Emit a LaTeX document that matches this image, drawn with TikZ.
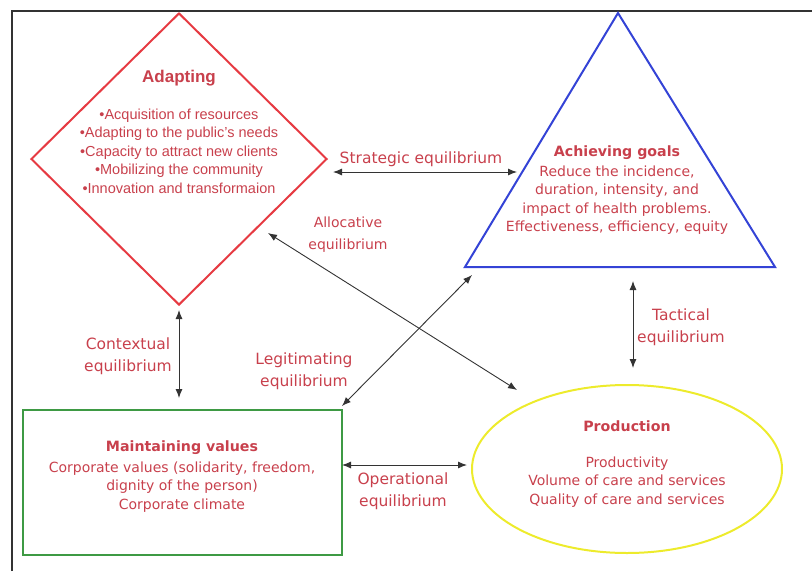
\documentclass[tikz,border=0pt]{standalone}
\usepackage{fontspec}
\setmainfont{Liberation Sans}
\newfontfamily\comicfont{DejaVu Sans}
\usepackage{xcolor}
\usetikzlibrary{shapes, arrows.meta, positioning}

\definecolor{txtred}{HTML}{C8404C}
\definecolor{adaptred}{HTML}{E63A42}
\definecolor{goalblue}{HTML}{3443D6}
\definecolor{valgreen}{HTML}{3E9A44}
\definecolor{prodyellow}{HTML}{EDEB2C}
\definecolor{arrowgray}{HTML}{333333}

\begin{document}
\begin{tikzpicture}[
        x=1pt, y=-1pt,
        >={Latex[length=9pt, width=7pt]},
        eqarrow/.style={<->, draw=arrowgray, line width=0.9pt},
        eqlabel/.style={text=txtred, font=\comicfont\fontsize{15.5}{22}\selectfont, align=center, inner sep=2pt},
        boxtext/.style={text=txtred, font=\comicfont\fontsize{14}{18.5}\selectfont, align=center},
        boxtitle/.style={text=txtred, font=\comicfont\bfseries\fontsize{14.2}{17}\selectfont}
    ]
    \useasboundingbox (0,0) rectangle (812,571);
    % frame
    \draw[line width=1.2pt, black!80] (12,571) -- (12,11) -- (812,11);

    % Adapting
    \node[diamond, draw=adaptred, line width=2pt, minimum width=296pt, minimum height=292pt, inner sep=0pt] (adapt) at (179,159) {};
    \node[text=txtred, font=\bfseries\fontsize{17}{20}\selectfont] (adapt_title) at (179,78) {Adapting};
    \node[text=txtred, font=\fontsize{14.5}{18.6}\selectfont, align=center, anchor=north] (adapt_body) at (179,105) {
        •Acquisition of resources\\
        •Adapting to the public's needs\\
        •Capacity to attract new clients\\
        •Mobilizing the community\\
        •Innovation and transformaion};

    % Achieving goals
    \coordinate (goal_top) at (618,13);
    \coordinate (goal_left) at (465,267);
    \coordinate (goal_right) at (775,267);
    \draw[goalblue, line width=2pt, line join=miter] (goal_top) -- (goal_left) -- (goal_right) -- cycle;
    \node[boxtitle] (goal_title) at (617,153) {Achieving goals};
    \node[boxtext, anchor=north] (goal_body) at (617,162) {
        Reduce the incidence,\\
        duration, intensity, and\\
        impact of health problems.\\
        Effectiveness, efficiency, equity};

    % Maintaining values
    \node[draw=valgreen, line width=2pt, minimum width=319pt, minimum height=145pt, inner sep=0pt] (values) at (182.5,482.5) {};
    \node[boxtitle] (values_title) at (182,448) {Maintaining values};
    \node[boxtext, anchor=north] (values_body) at (182,458) {
        Corporate values (solidarity, freedom,\\
        dignity of the person)\\
        Corporate climate};

    % Production
    \node[ellipse, draw=prodyellow, line width=2pt, minimum width=310pt, minimum height=168pt, inner sep=0pt] (prod) at (627,469) {};
    \node[boxtitle] (prod_title) at (627,426) {Production};
    \node[boxtext, anchor=north] (prod_body) at (627,453) {
        Productivity\\
        Volume of care and services\\
        Quality of care and services};

    % arrow ends
    \coordinate (str_a) at (333,172);
    \coordinate (str_b) at (517,172);
    \coordinate (alloc_a) at (268,233);
    \coordinate (alloc_b) at (517,390);
    \coordinate (legit_a) at (342,406);
    \coordinate (legit_b) at (472,275);
    \coordinate (ctx_a) at (179,310);
    \coordinate (ctx_b) at (179,398);
    \coordinate (op_a) at (342,465);
    \coordinate (op_b) at (467,465);
    \coordinate (tac_a) at (633,281);
    \coordinate (tac_b) at (633,368);

    % equilibria
    \draw[eqarrow] (str_a) -- (str_b);
    \node[eqlabel] (str_lbl) at (421,159) {Strategic equilibrium};
    \draw[eqarrow] (alloc_a) -- (alloc_b);
    \node[eqlabel, font=\comicfont\fontsize{14}{22}\selectfont] (alloc_lbl) at (348,235) {Allocative\\equilibrium};
    \draw[eqarrow] (legit_a) -- (legit_b);
    \node[eqlabel] (legit_lbl) at (304,371) {Legitimating\\equilibrium};
    \draw[eqarrow] (ctx_a) -- (ctx_b);
    \node[eqlabel] (ctx_lbl) at (128,356) {Contextual\\equilibrium};
    \draw[eqarrow] (op_a) -- (op_b);
    \node[eqlabel] (op_lbl) at (403,491) {Operational\\equilibrium};
    \draw[eqarrow] (tac_a) -- (tac_b);
    \node[eqlabel] (tac_lbl) at (681,327) {Tactical\\equilibrium};
\end{tikzpicture}
\end{document}
